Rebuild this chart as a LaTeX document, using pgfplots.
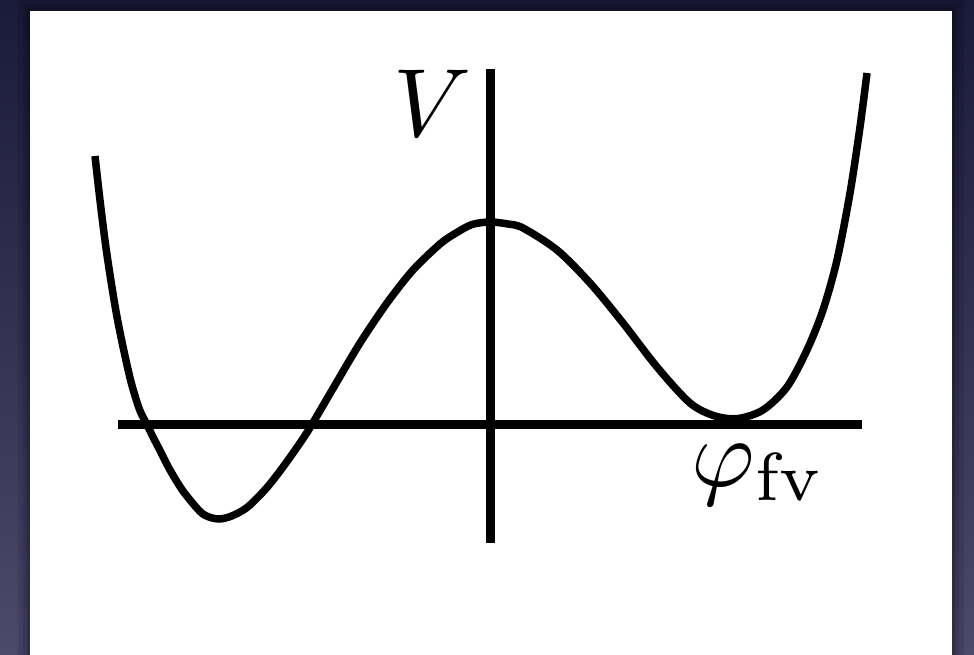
\documentclass[border=0pt]{standalone}
\usepackage{pgfplots}
\pgfplotsset{compat=1.18}
\definecolor{slatetop}{RGB}{26,26,58}
\definecolor{slatebot}{RGB}{76,73,108}

\begin{document}
\begin{tikzpicture}
\begin{axis}[
  width=974pt, height=655pt, scale only axis,
  xmin=0, xmax=974, ymin=0, ymax=655, y dir=reverse,
  hide axis, clip=true,
]
% slide background
\fill[top color=slatetop, bottom color=slatebot] (axis cs:0,0) rectangle (axis cs:974,655);
% soft shadow around the panel
\fill[black, opacity=0.10] (axis cs:18,0) rectangle (axis cs:964,655);
\fill[black, opacity=0.12] (axis cs:23,4) rectangle (axis cs:959,655);
\fill[black, opacity=0.15] (axis cs:27,8) rectangle (axis cs:955,655);
% white panel
\fill[white] (axis cs:30,11) rectangle (axis cs:952,655);

% field axes
\addplot[black, line width=8.3pt] coordinates {(118,424.5) (862,424.5)};
\addplot[black, line width=8.3pt] coordinates {(490.5,69) (490.5,543)};

% potential V(phi)
\addplot[black, line width=7.5pt, smooth, tension=0.5] coordinates {
(95,156) (98,183) (102,217) (106.3,250) (111.3,283) (117,317) (123.7,350)
(131.3,383) (139.7,410) (147,424.5) (153,437) (160,450.5) (170,470)
(183,491) (200,511.5) (209,517) (219,519) (229,517) (240,512) (250,505)
(267,487.5) (283,467) (300,443) (311,426) (333,388.5) (360,343) (387,303)
(413,270) (440,244) (456,233) (472,224.5) (490,222) (508,224) (523,228)
(557,250) (590,283) (623,323) (657,367) (690,403) (715,416) (738,418.5)
(763,410) (787,387) (807,350) (823,310) (837,260) (850,193) (860,127) (867,73)
};

\node[anchor=base west, inner sep=0pt, scale=9.7] at (axis cs:392,137) {$V$};
\node[anchor=base west, inner sep=0pt, scale=9.7] at (axis cs:690,486) {$\varphi_{\mathrm{fv}}$};
\end{axis}
\end{tikzpicture}
\end{document}
